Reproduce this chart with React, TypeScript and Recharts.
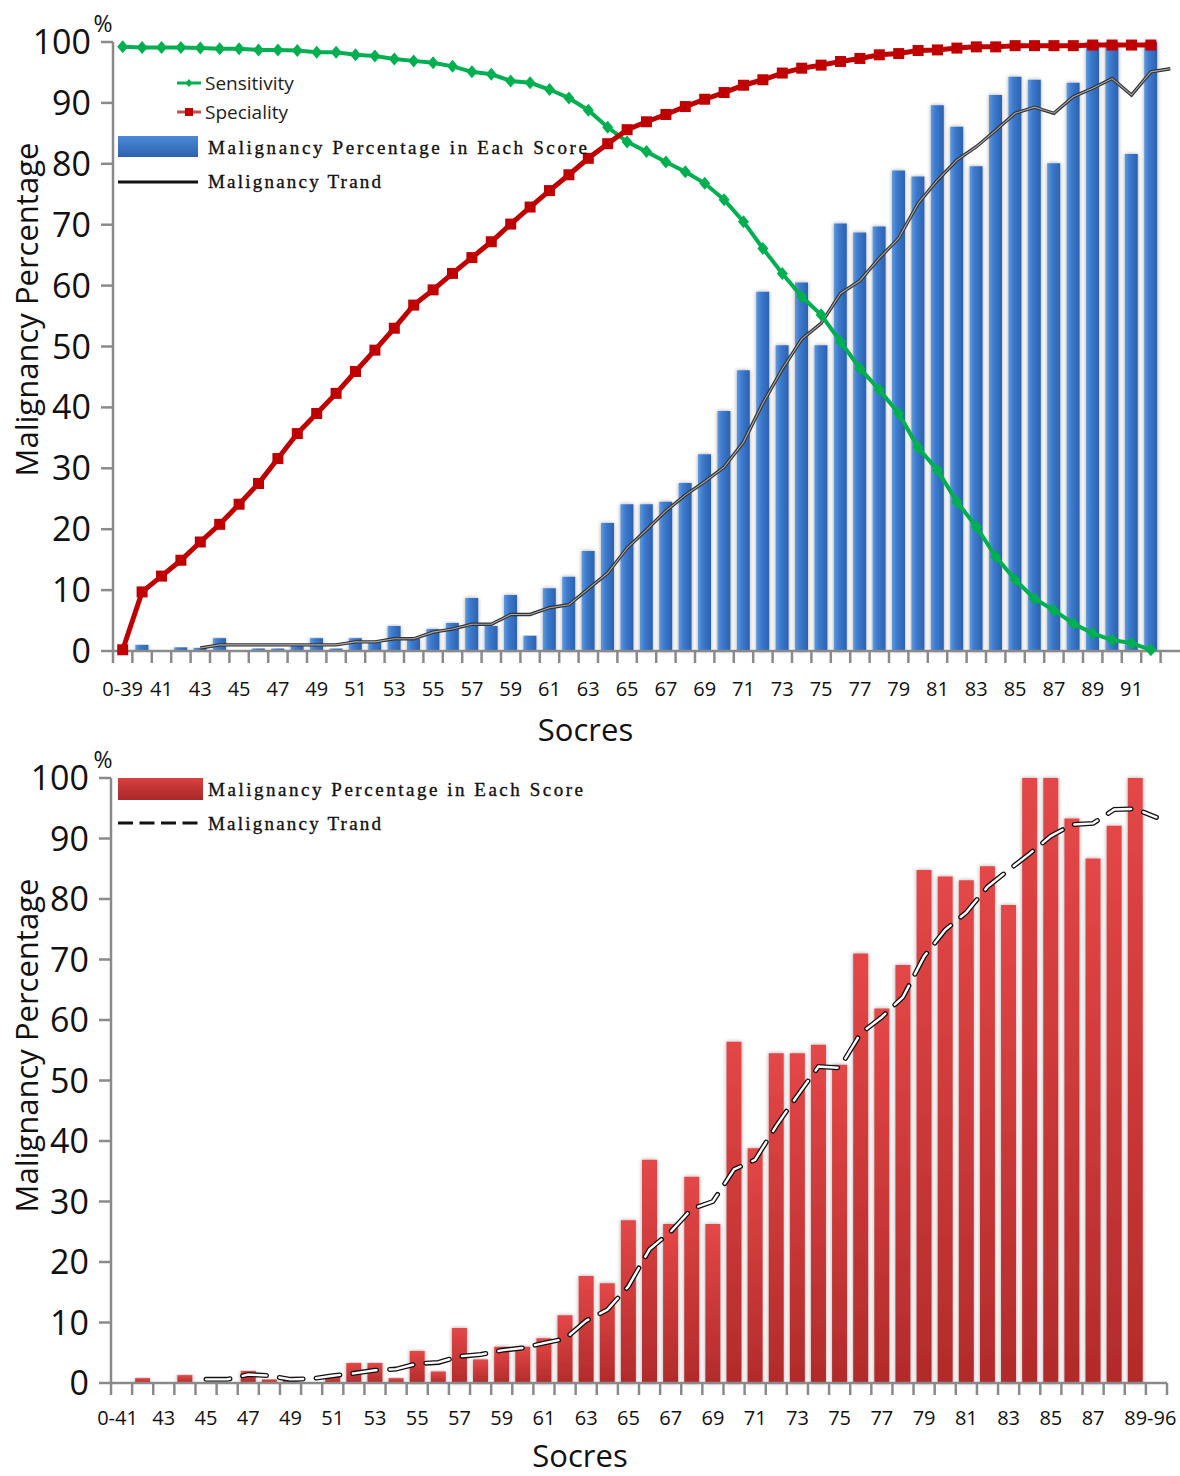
import React from 'react';
import { ComposedChart, Bar, Line, XAxis, YAxis, Legend, Label } from 'recharts';

// ---------- Top chart data ----------
const topCategories = [
  '0-39', '40', '41', '42', '43', '44', '45', '46', '47', '48', '49', '50', '51', '52', '53', '54',
  '55', '56', '57', '58', '59', '60', '61', '62', '63', '64', '65', '66', '67', '68', '69', '70',
  '71', '72', '73', '74', '75', '76', '77', '78', '79', '80', '81', '82', '83', '84', '85', '86',
  '87', '88', '89', '90', '91', '92', '93',
];
const topTickLabels = [
  '0-39', '41', '43', '45', '47', '49', '51', '53', '55', '57', '59', '61', '63', '65', '67', '69',
  '71', '73', '75', '77', '79', '81', '83', '85', '87', '89', '91',
];
const topMalignancy = [
  0, 1.0, 0, 0.6, 0.5, 2.1, 0, 0.4, 0.4, 1.0, 2.1, 0.4, 2.1, 1.4, 4.1, 2.0, 3.6, 4.6, 8.7, 4.1,
  9.2, 2.5, 10.3, 12.2, 16.4, 21.0, 24.1, 24.1, 24.5, 27.6, 32.3, 39.4, 46.1, 59.0, 50.2, 60.5,
  50.2, 70.2, 68.7, 69.7, 78.9, 77.9, 89.6, 86.1, 79.6, 91.3, 94.3, 93.8, 80.1, 93.3, 100, 100,
  81.6, 100, null,
];
const topTrend = [
  null, null, null, null, 0.5, 1.0, 1.0, 1.0, 1.0, 1.0, 1.0, 1.0, 1.5, 1.5, 2.0, 2.0, 3.1, 3.6,
  4.4, 4.4, 6.0, 6.0, 7.1, 7.6, 10.2, 12.8, 16.9, 19.9, 23.0, 25.6, 27.8, 30.2, 34.3, 40.7, 46.3,
  51.2, 53.8, 58.7, 60.8, 64.5, 67.8, 73.5, 77.3, 80.6, 82.8, 85.5, 88.3, 89.3, 88.3, 91.0, 92.4,
  94.0, 91.3, 95.1, 95.6,
];
const sensitivity = [
  99.2, 99.1, 99.1, 99.1, 99.0, 98.9, 98.9, 98.7, 98.7, 98.6, 98.3, 98.3, 97.9, 97.7, 97.2, 96.9,
  96.6, 96.0, 95.1, 94.7, 93.6, 93.3, 92.2, 90.8, 88.8, 86.0, 83.6, 82.0, 80.3, 78.7, 76.8, 74.1,
  70.5, 66.1, 62.0, 58.2, 55.2, 50.8, 46.4, 42.9, 39.0, 33.4, 29.7, 24.5, 20.4, 15.5, 11.7, 8.6,
  6.7, 4.5, 2.9, 1.8, 1.3, 0.2, null,
];
const speciality = [
  0.2, 9.7, 12.3, 14.9, 17.9, 20.8, 24.1, 27.5, 31.6, 35.7, 39.0, 42.3, 45.9, 49.4, 53.0, 56.8,
  59.3, 62.0, 64.6, 67.2, 70.1, 72.9, 75.6, 78.2, 80.9, 83.3, 85.6, 86.9, 88.1, 89.4, 90.6, 91.7,
  92.9, 93.8, 94.9, 95.7, 96.2, 96.8, 97.3, 97.9, 98.1, 98.6, 98.7, 99.0, 99.2, 99.2, 99.4, 99.4,
  99.4, 99.4, 99.5, 99.5, 99.5, 99.5, null,
];

// ---------- Bottom chart data ----------
const bottomCategories = [
  '0-41', '42', '43', '44', '45', '46', '47', '48', '49', '50', '51', '52', '53', '54', '55', '56',
  '57', '58', '59', '60', '61', '62', '63', '64', '65', '66', '67', '68', '69', '70', '71', '72',
  '73', '74', '75', '76', '77', '78', '79', '80', '81', '82', '83', '84', '85', '86', '87', '88',
  '89-96', '',
];
const bottomTickLabels = [
  '0-41', '43', '45', '47', '49', '51', '53', '55', '57', '59', '61', '63', '65', '67', '69', '71',
  '73', '75', '77', '79', '81', '83', '85', '87', '89-96',
];
const bottomMalignancy = [
  0, 0.8, 0, 1.3, 0, 0, 2.0, 0.6, 0.8, 0, 1.3, 3.3, 3.3, 0.8, 5.3, 1.9, 9.1, 3.9, 6.0, 6.0, 7.4,
  11.2, 17.7, 16.5, 26.9, 36.9, 26.3, 34.1, 26.3, 56.4, 38.8, 54.5, 54.5, 55.9, 52.6, 71.0, 61.9,
  69.1, 84.8, 83.7, 83.1, 85.4, 79.0, 100, 100, 93.3, 86.7, 92.1, 100, null,
];
const bottomTrend = [
  null, null, null, null, 0.6, 0.6, 1.4, 1.2, 0.6, 0.7, 1.2, 1.6, 2.1, 2.3, 3.2, 3.4, 4.4, 4.7,
  5.4, 5.8, 6.6, 7.3, 10.3, 12.1, 16.0, 22.1, 25.0, 28.8, 30.0, 35.3, 36.9, 42.5, 47.5, 52.3,
  52.1, 57.8, 60.5, 63.8, 70.5, 74.9, 77.8, 82.0, 84.8, 87.5, 90.4, 92.3, 92.5, 94.8, 94.9, 93.5,
];

const yTicks = [0, 10, 20, 30, 40, 50, 60, 70, 80, 90, 100];

const topData = topCategories.map((c, i) => ({
  score: c,
  malignancy: topMalignancy[i],
  trend: topTrend[i],
  sensitivity: sensitivity[i],
  speciality: speciality[i],
}));
const bottomData = bottomCategories.map((c, i) => ({
  score: c,
  malignancy: bottomMalignancy[i],
  trend: bottomTrend[i],
}));

const SANS = "'Open Sans', 'Noto Sans', sans-serif";
const SERIF = "'Liberation Serif', 'DejaVu Serif', serif";
const AXIS = '#8a8a8a';
const GREEN = '#00b050';
const RED = '#c00000';

function CategoryTick(props: any) {
  const { x, y, payload, labels, labelDy, half, lastIndex, shifts } = props;
  const h = payload && typeof payload.offset === 'number' && payload.offset > 0 ? payload.offset : half;
  const show = labels.includes(payload.value) && payload.value !== '';
  const shift = shifts && shifts[payload.value] ? shifts[payload.value] : 0;
  return (
    <g>
      <line x1={x - h} x2={x - h} y1={y} y2={y + 12} stroke={AXIS} strokeWidth={2.5} />
      {lastIndex !== undefined && payload.index === lastIndex ? (
        <line x1={x + h} x2={x + h} y1={y} y2={y + 12} stroke={AXIS} strokeWidth={2.5} />
      ) : null}
      {show ? (
        <text x={x + shift} y={y + labelDy} textAnchor="middle" dominantBaseline="central" fontFamily={SANS} fontSize={20} fill="#111">
          {payload.value}
        </text>
      ) : null}
    </g>
  );
}

function Diamond(props: any) {
  const { cx, cy, index } = props;
  if (cx == null || cy == null || props.value == null) return <g key={`d${index}`} />;
  return (
    <polygon key={`d${index}`} points={`${cx},${cy - 6.5} ${cx + 5.5},${cy} ${cx},${cy + 6.5} ${cx - 5.5},${cy}`} fill={GREEN} />
  );
}

function Square(props: any) {
  const { cx, cy, index } = props;
  if (cx == null || cy == null || props.value == null) return <g key={`s${index}`} />;
  return <rect key={`s${index}`} x={cx - 5.5} y={cy - 5.5} width={11} height={11} fill={RED} />;
}

const yTitle = (dyCenter: number) => (props: any) => {
  const vb = props.viewBox || { x: 0, y: 0, width: 0, height: 0 };
  const cy = vb.y + vb.height / 2 + dyCenter;
  return (
    <g>
      <text transform={`translate(26, ${cy}) rotate(-90)`} textAnchor="middle" dominantBaseline="central" fontFamily={SANS} fontSize={31} fill="#111">
        Malignancy Percentage
      </text>
      <text x={103} y={vb.y - 19} textAnchor="middle" dominantBaseline="central" fontFamily={SANS} fontSize={23} fill="#111">
        %
      </text>
    </g>
  );
};

const xTitle = (dx: number, dy: number) => (props: any) => {
  const vb = props.viewBox || { x: 0, y: 0, width: 0, height: 0 };
  return (
    <text x={vb.x + vb.width / 2 + dx} y={vb.y + dy} textAnchor="middle" fontFamily={SANS} fontSize={31} fill="#111">
      Socres
    </text>
  );
};

function TopLegend() {
  return (
    <svg width={700} height={200} style={{ position: 'absolute', left: 0, top: 0, overflow: 'visible', pointerEvents: 'none' }}>
      <line x1={177} x2={201} y1={83} y2={83} stroke={GREEN} strokeWidth={3} />
      <polygon points="189,79 192.5,83 189,87 185.5,83" fill={GREEN} />
      <text x={205} y={83} dominantBaseline="central" fontFamily={SANS} fontSize={19} fill="#222">Sensitivity</text>
      <line x1={177} x2={201} y1={112} y2={112} stroke="#c0504d" strokeWidth={3} />
      <rect x={185} y={108} width={8} height={8} fill={RED} />
      <text x={205} y={112} dominantBaseline="central" fontFamily={SANS} fontSize={19} fill="#222">Speciality</text>
      <defs>
        <linearGradient id="blueLegendGrad" x1="0" y1="0" x2="0" y2="1">
          <stop offset="0" stopColor="#4a8ad8" />
          <stop offset="1" stopColor="#2e62ad" />
        </linearGradient>
      </defs>
      <rect x={118} y={136} width={80} height={21} fill="url(#blueLegendGrad)" />
      <text x={208} y={147} dominantBaseline="central" fontFamily={SERIF} fontSize={19} fill="#111" stroke="#111" strokeWidth={0.35} textLength={379} lengthAdjust="spacing">
        Malignancy Percentage in Each Score
      </text>
      <line x1={118} x2={198} y1={182} y2={182} stroke="#111" strokeWidth={3} />
      <text x={208} y={181} dominantBaseline="central" fontFamily={SERIF} fontSize={19} fill="#111" stroke="#111" strokeWidth={0.35} textLength={173} lengthAdjust="spacing">
        Malignancy Trand
      </text>
    </svg>
  );
}

function BottomLegend() {
  return (
    <svg width={700} height={140} style={{ position: 'absolute', left: 0, top: 0, overflow: 'visible', pointerEvents: 'none' }}>
      <defs>
        <linearGradient id="redLegendGrad" x1="0" y1="0" x2="0" y2="1">
          <stop offset="0" stopColor="#d94040" />
          <stop offset="1" stopColor="#a82828" />
        </linearGradient>
      </defs>
      <rect x={118} y={53} width={85} height={22} fill="url(#redLegendGrad)" />
      <text x={208} y={64} dominantBaseline="central" fontFamily={SERIF} fontSize={19} fill="#111" stroke="#111" strokeWidth={0.35} textLength={375} lengthAdjust="spacing">
        Malignancy Percentage in Each Score
      </text>
      <line x1={118} x2={198} y1={98} y2={98} stroke="#111" strokeWidth={3} strokeDasharray="15 6.5" />
      <text x={208} y={98} dominantBaseline="central" fontFamily={SERIF} fontSize={19} fill="#111" stroke="#111" strokeWidth={0.35} textLength={173} lengthAdjust="spacing">
        Malignancy Trand
      </text>
    </svg>
  );
}

const legendWrap = { position: 'absolute' as const, left: 0, top: 0, width: 0, height: 0, overflow: 'visible' as const };

function TopChart() {
  return (
    <ComposedChart width={1180} height={765} data={topData} margin={{ top: 42, right: 0, bottom: 0, left: 0 }}>
      <defs>
        <linearGradient id="blueBar" x1="0" y1="0" x2="1" y2="0">
          <stop offset="0" stopColor="#6199dd" />
          <stop offset="0.35" stopColor="#3d7bcf" />
          <stop offset="1" stopColor="#2c61ae" />
        </linearGradient>
        <filter id="blueShadow" x="-60%" y="-5%" width="220%" height="110%">
          <feGaussianBlur in="SourceAlpha" stdDeviation="2.2" />
          <feComponentTransfer>
            <feFuncA type="linear" slope="0.35" />
          </feComponentTransfer>
          <feMerge>
            <feMergeNode />
            <feMergeNode in="SourceGraphic" />
          </feMerge>
        </filter>
      </defs>
      <XAxis
        dataKey="score"
        type="category"
        interval={0}
        tickSize={0}
        tickMargin={0}
        tickLine={false}
        height={114}
        axisLine={{ stroke: AXIS, strokeWidth: 2.5 }}
        tick={(p: any) => <CategoryTick {...p} labels={topTickLabels} labelDy={37} half={9.7} />}
      >
        <Label content={xTitle(-61, 90)} />
      </XAxis>
      <YAxis
        domain={[0, 100]}
        ticks={yTicks}
        interval={0}
        width={113}
        tickSize={12}
        tickMargin={10}
        axisLine={{ stroke: AXIS, strokeWidth: 2.5 }}
        tickLine={{ stroke: AXIS, strokeWidth: 2.5 }}
        tick={{ fontSize: 34, fill: '#111', fontFamily: SANS }}
      >
        <Label content={yTitle(-37)} />
      </YAxis>
      <Legend verticalAlign="middle" align="center" layout="horizontal" wrapperStyle={legendWrap} content={() => <TopLegend />} />
      <Bar dataKey="malignancy" barSize={13} fill="url(#blueBar)" filter="url(#blueShadow)" isAnimationActive={false} />
      <Line dataKey="trend" type="linear" stroke="#333" strokeWidth={3.4} dot={false} activeDot={false} isAnimationActive={false} />
      <Line dataKey={(d: any) => d.trend} name="trendCore" type="linear" stroke="#a8a8a8" strokeWidth={1.1} dot={false} activeDot={false} isAnimationActive={false} />
      <Line dataKey="sensitivity" type="linear" stroke={GREEN} strokeWidth={4} dot={Diamond} activeDot={false} isAnimationActive={false} />
      <Line dataKey="speciality" type="linear" stroke={RED} strokeWidth={5} dot={Square} activeDot={false} isAnimationActive={false} />
    </ComposedChart>
  );
}

function BottomChart() {
  return (
    <ComposedChart width={1180} height={751} data={bottomData} margin={{ top: 53, right: 13, bottom: 0, left: 0 }}>
      <defs>
        <linearGradient id="redBar" x1="0" y1="0" x2="0" y2="1">
          <stop offset="0" stopColor="#e44747" />
          <stop offset="1" stopColor="#b22b2b" />
        </linearGradient>
        <filter id="redShadow" x="-60%" y="-5%" width="220%" height="110%">
          <feGaussianBlur in="SourceAlpha" stdDeviation="2.2" />
          <feComponentTransfer>
            <feFuncA type="linear" slope="0.35" />
          </feComponentTransfer>
          <feMerge>
            <feMergeNode />
            <feMergeNode in="SourceGraphic" />
          </feMerge>
        </filter>
      </defs>
      <XAxis
        dataKey="score"
        type="category"
        interval={0}
        tickSize={0}
        tickMargin={0}
        tickLine={false}
        height={93}
        axisLine={{ stroke: AXIS, strokeWidth: 2.5 }}
        tick={(p: any) => (
          <CategoryTick {...p} labels={bottomTickLabels} labelDy={34} half={10.56} lastIndex={bottomCategories.length - 1} shifts={{ '89-96': 15, '0-41': -4 }} />
        )}
      >
        <Label content={xTitle(-59, 84)} />
      </XAxis>
      <YAxis
        domain={[0, 100]}
        ticks={yTicks}
        interval={0}
        width={111}
        tickSize={12}
        tickMargin={10}
        axisLine={{ stroke: AXIS, strokeWidth: 2.5 }}
        tickLine={{ stroke: AXIS, strokeWidth: 2.5 }}
        tick={{ fontSize: 34, fill: '#111', fontFamily: SANS }}
      >
        <Label content={yTitle(-35)} />
      </YAxis>
      <Legend verticalAlign="middle" align="center" layout="horizontal" wrapperStyle={legendWrap} content={() => <BottomLegend />} />
      <Bar dataKey="malignancy" barSize={15} fill="url(#redBar)" filter="url(#redShadow)" isAnimationActive={false} />
      <Line dataKey="trend" type="linear" stroke="#111" strokeWidth={5} strokeDasharray="24 13" strokeLinecap="round" dot={false} activeDot={false} isAnimationActive={false} />
      <Line dataKey={(d: any) => d.trend} name="trendCore" type="linear" stroke="#ffffff" strokeWidth={2.4} strokeDasharray="24 13" strokeLinecap="round" dot={false} activeDot={false} isAnimationActive={false} />
    </ComposedChart>
  );
}

export default function App() {
  return (
    <div style={{ position: 'absolute', left: 0, top: 0, width: 1180, height: 1476, background: '#fff', overflow: 'hidden' }}>
      <div style={{ position: 'absolute', left: 0, top: 0 }}>
        <TopChart />
      </div>
      <div style={{ position: 'absolute', left: 0, top: 725 }}>
        <BottomChart />
      </div>
    </div>
  );
}
